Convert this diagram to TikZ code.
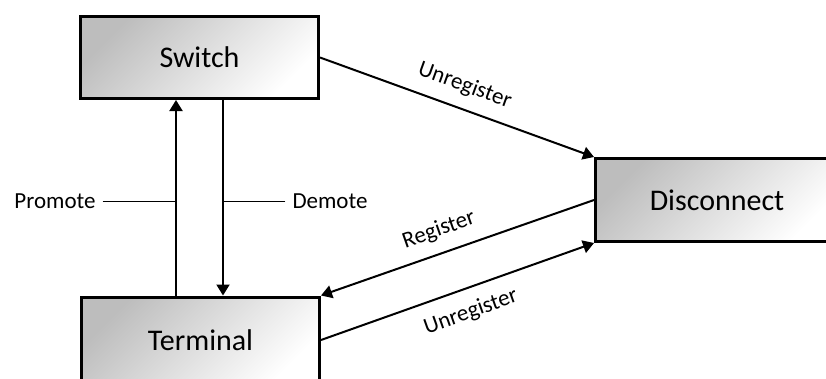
\documentclass[tikz,border=0pt]{standalone}
\usepackage{fontspec}
\setmainfont{Carlito}
\usetikzlibrary{arrows.meta}
\begin{document}
\begin{tikzpicture}[x=1pt,y=-1pt,
  state/.style={draw=black, line width=3pt, inner sep=0pt,
    top color=gray!52, bottom color=white, shading angle=45,
    font=\fontsize{30}{36}\selectfont},
  arr/.style={line width=2pt, -{Triangle[length=11pt,width=13pt]}},
  lbl/.style={font=\fontsize{23}{28}\selectfont, inner sep=0pt},
  tick/.style={line width=1pt}]
  \useasboundingbox (0,0) rectangle (826,378);

  % states
  \node[state, minimum width=238pt, minimum height=82pt] (switch) at (199.5,57.5) {Switch};
  \node[state, minimum width=238pt, minimum height=86pt] (terminal) at (200.5,340) {Terminal};
  \node[state, minimum width=243pt, minimum height=83pt] (disconnect) at (717,200) {Disconnect};

  % promote / demote columns
  \coordinate (promX) at (176,0);
  \coordinate (demX) at (223,0);
  \draw[arr] (terminal.north -| promX) -- (switch.south -| promX);
  \draw[arr] (switch.south -| demX) -- (terminal.north -| demX);

  \node[lbl, inner xsep=7pt] (promote) at (55,201) {Promote};
  \node[lbl, inner xsep=7pt] (demote) at (330,201) {Demote};
  \draw[tick] (promote.east) -- (promote.east -| promX);
  \draw[tick] (demote.west) -- (demote.west -| demX);

  % registration transitions
  \draw[arr] (switch.east) -- (disconnect.north west)
    node[lbl, pos=0.5, sloped, above=12pt] {Unregister};
  \draw[arr] (disconnect.west) -- (terminal.north east)
    node[lbl, pos=0.54, sloped, above=12pt] {Register};
  \draw[arr] (terminal.east) -- (disconnect.south west)
    node[lbl, pos=0.52, sloped, below=13pt] {Unregister};
\end{tikzpicture}
\end{document}
